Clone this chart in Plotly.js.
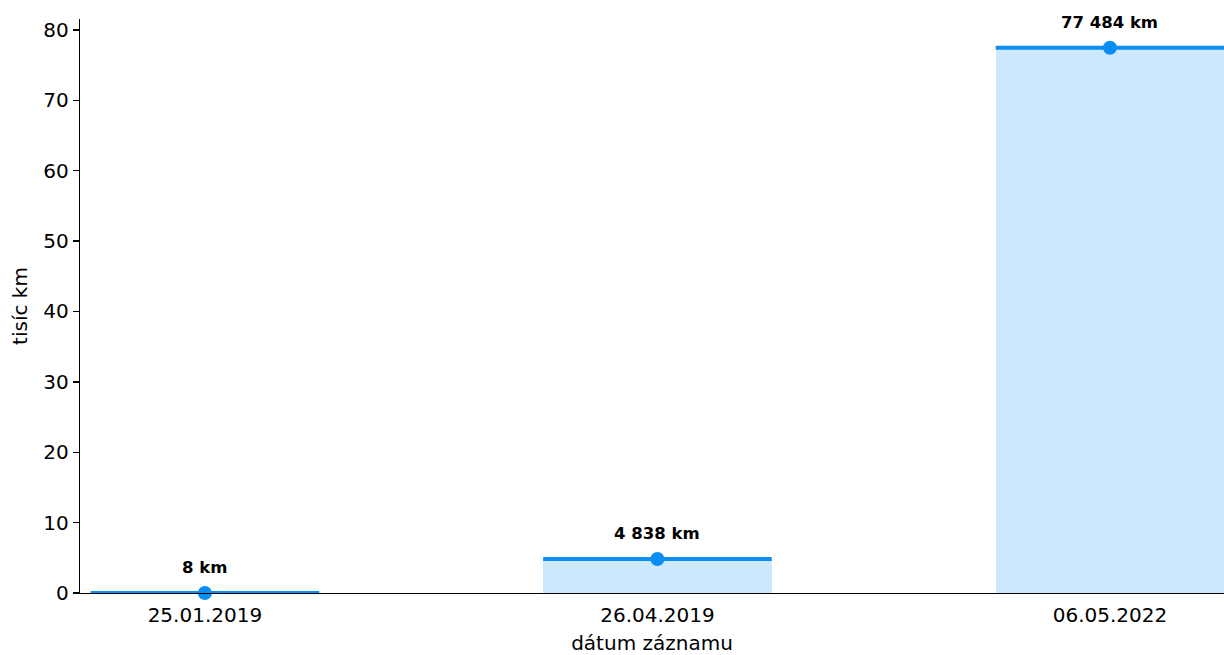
<!DOCTYPE html>
<html>
<head>
<meta charset="utf-8">
<script src="https://cdn.plot.ly/plotly-3.0.1.min.js"></script>
<style>html,body{margin:0;padding:0;background:#fff;}#chart{width:1224px;height:655px;}</style>
</head>
<body>
<div id="chart"></div>
<script>
const dates = ["25.01.2019", "26.04.2019", "06.05.2022"];
const kmValues = [8, 4838, 77484];
const yTickVals = [0, 10, 20, 30, 40, 50, 60, 70, 80];

const idx = dates.map((d, i) => i);
const thousands = kmValues.map(v => v / 1000);
const fmt = v => String(v).replace(/\B(?=(\d{3})+(?!\d))/g, " ") + " km";

const barW = 0.505;
const lineBlue = "#0a8ef2";
const fillBlue = "#cde8fc";

const traces = [{
  type: "bar", x: idx, y: thousands, width: barW,
  marker: {color: fillBlue, line: {width: 0}},
  hoverinfo: "skip", showlegend: false
}];
idx.forEach((i, k) => {
  traces.push({
    type: "scatter", mode: "lines", cliponaxis: false,
    x: [i - barW / 2, i + barW / 2], y: [thousands[k], thousands[k]],
    line: {color: lineBlue, width: 4}, showlegend: false, hoverinfo: "skip"
  });
});
traces.push({
  type: "scatter", mode: "markers", x: idx, y: thousands, cliponaxis: false,
  marker: {color: lineBlue, size: 14}, showlegend: false, hoverinfo: "skip"
});

const annotations = idx.map((i, k) => ({
  x: i, y: thousands[k], xref: "x", yref: "y",
  text: "<b>" + fmt(kmValues[k]) + "</b>", showarrow: false,
  yanchor: "middle", xanchor: "center", yshift: 25,
  font: {family: "DejaVu Sans", size: 16.5, color: "#000"}
}));

const layout = {
  width: 1224, height: 655,
  margin: {l: 80, r: 0, t: 19, b: 62, pad: 0},
  paper_bgcolor: "#fff", plot_bgcolor: "#fff",
  font: {family: "DejaVu Sans", size: 20, color: "#000"},
  bargap: 0,
  xaxis: {
    range: [-0.276, 2.252], tickvals: idx, ticktext: dates,
    showgrid: false, zeroline: false, showline: true, linecolor: "#000", linewidth: 1.3,
    ticks: "", tickfont: {size: 20}, ticklabelstandoff: 4,
    title: {text: "dátum záznamu", font: {size: 20}, standoff: 13},
    fixedrange: true
  },
  yaxis: {
    range: [0, 81.56], tickvals: yTickVals,
    showgrid: false, zeroline: false, showline: true, linecolor: "#000", linewidth: 1.3,
    ticks: "outside", ticklen: 6, tickwidth: 1.3, tickcolor: "#000",
    tickfont: {size: 20},
    title: {text: "tisíc km", font: {size: 20}, standoff: 10},
    fixedrange: true
  },
  annotations: annotations
};

Plotly.newPlot("chart", traces, layout, {displayModeBar: false, staticPlot: true});
</script>
</body>
</html>
